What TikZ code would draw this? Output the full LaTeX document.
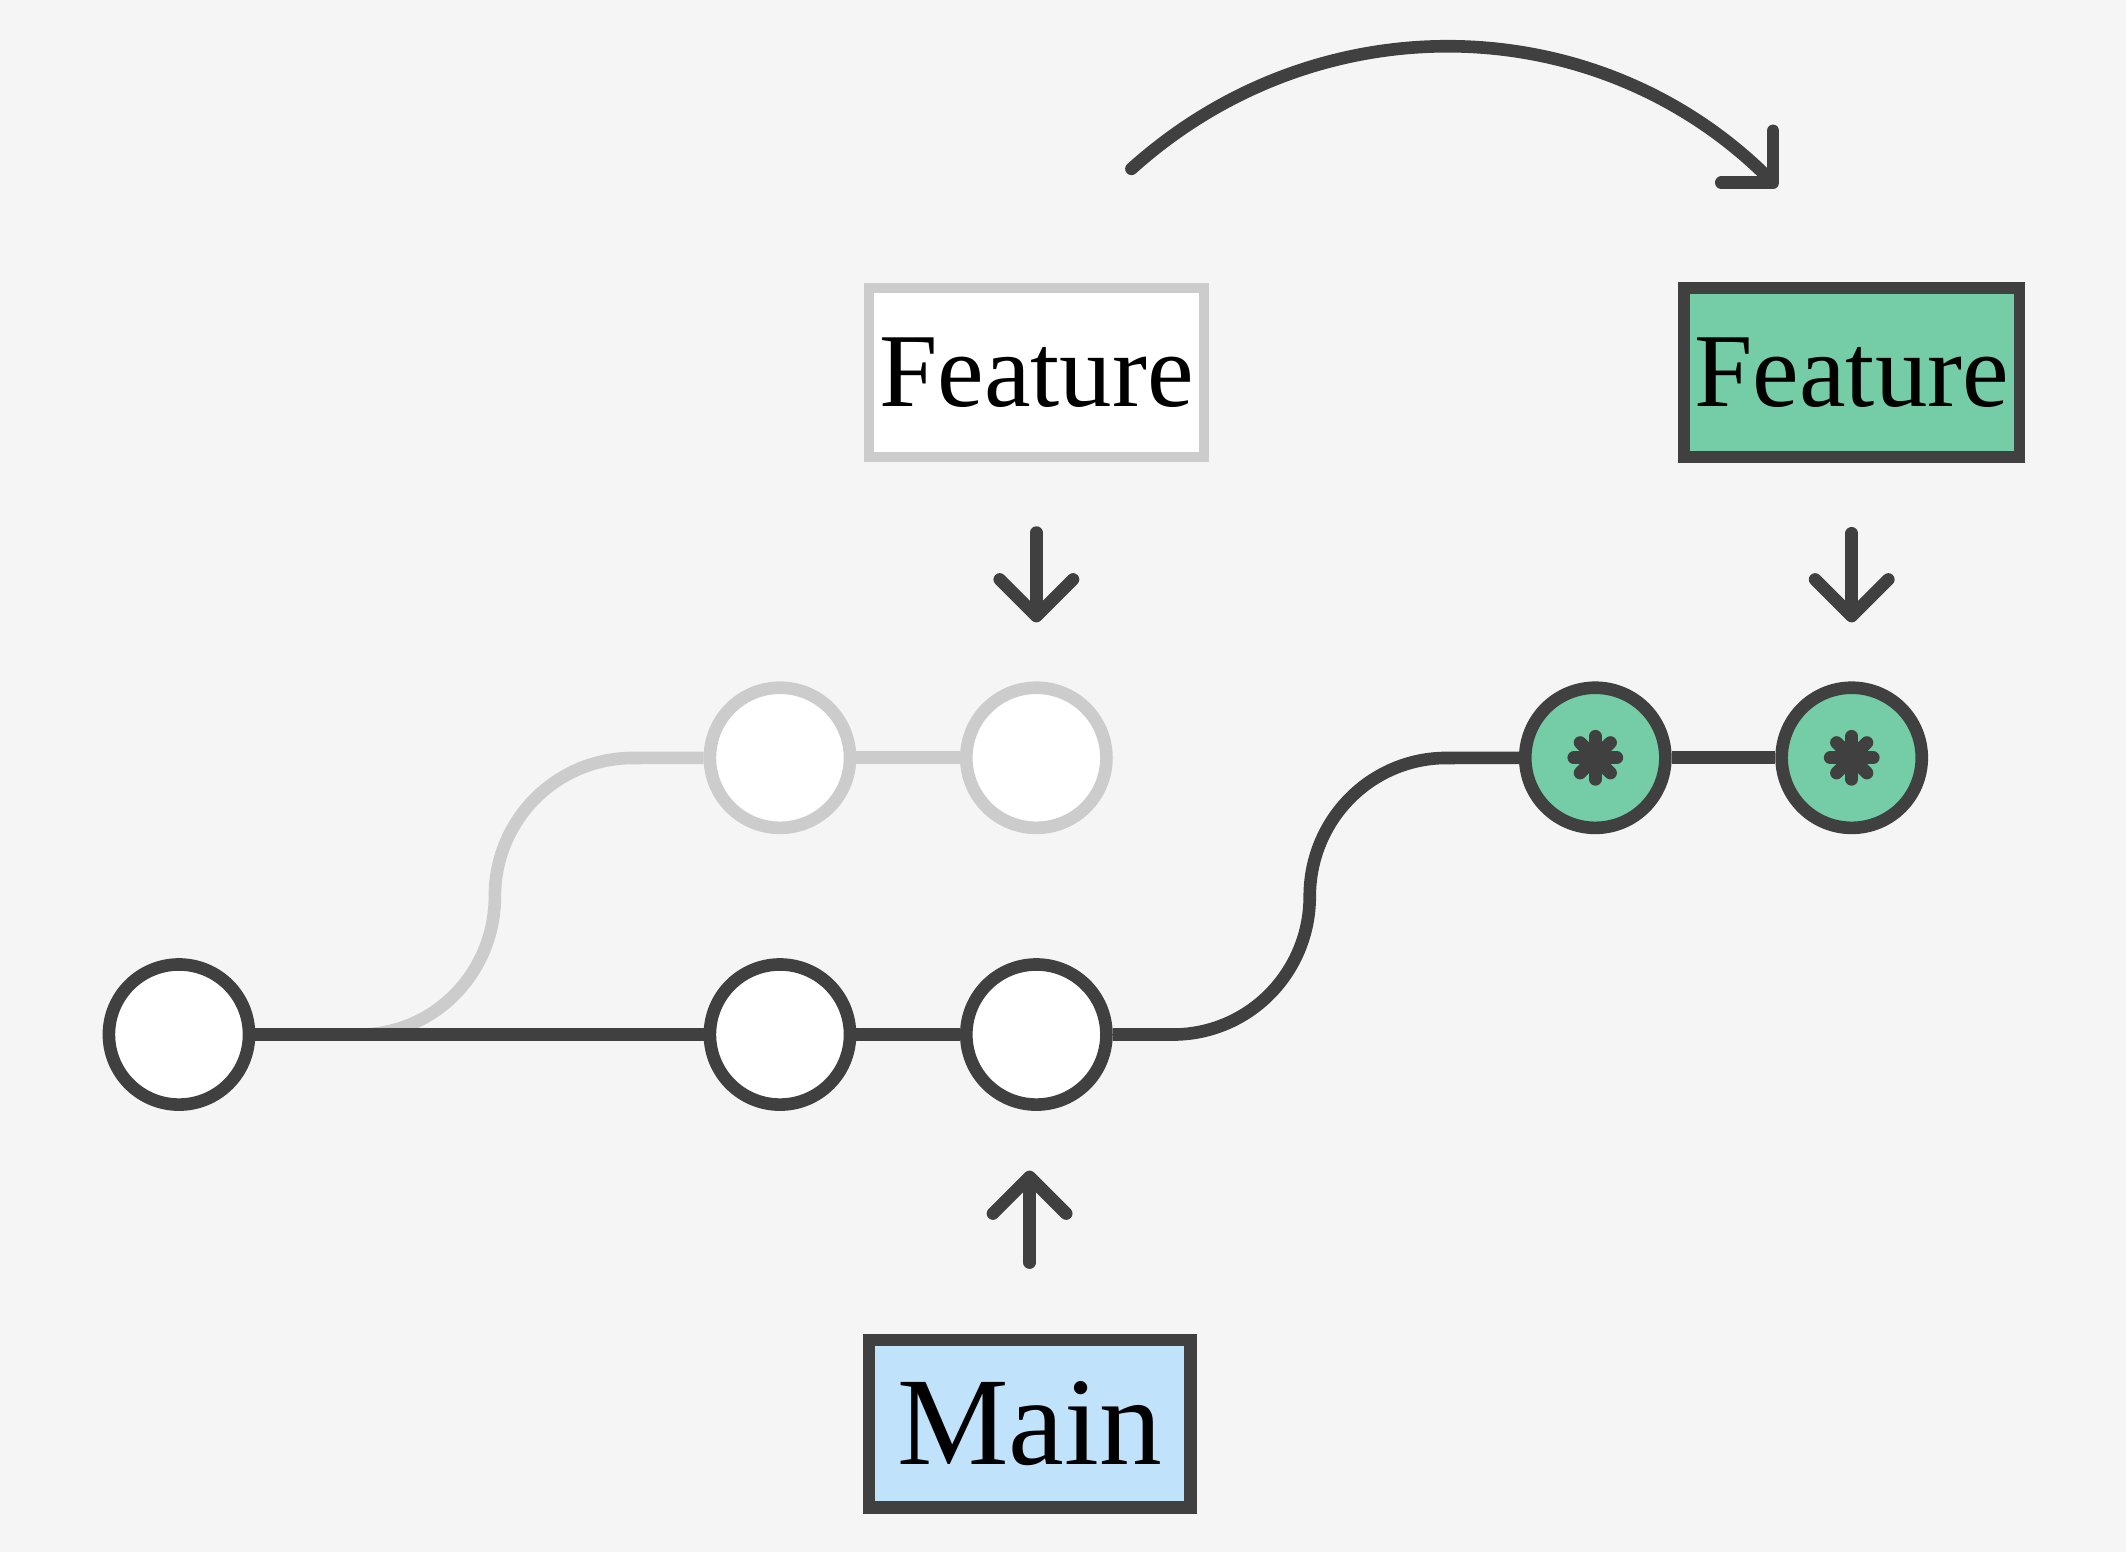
\documentclass[tikz,border=0pt]{standalone}
\usepackage{fontspec}
\setmainfont{Liberation Serif}
\usetikzlibrary{arrows.meta,positioning}
\definecolor{bgcol}{HTML}{F5F5F5}
\definecolor{ink}{HTML}{404040}
\definecolor{faded}{HTML}{CCCCCC}
\definecolor{featgreen}{HTML}{74CDA6}
\definecolor{mainblue}{HTML}{C0E2FA}

\begin{document}
\begin{tikzpicture}[x=0.01cm,y=0.01cm,on grid,
    commit/.style={circle,draw=ink,fill=white,line width=0.93mm,minimum size=1.033cm,inner sep=0pt},
    ghost/.style={commit,draw=faded},
    moved/.style={commit,fill=featgreen},
    branch/.style={draw=ink,line width=0.85mm,minimum width=2.47cm,minimum height=1.245cm,inner sep=0pt,font=\fontsize{22}{26}\selectfont},
    link/.style={ink,line width=0.93mm},
    ptr/.style={ink,line width=0.93mm,line cap=round,-{Straight Barb[length=2.7mm,width=5.4mm,round]}}]
    \useasboundingbox (0,0) rectangle (1568,-1144.6);
    \fill[bgcol] (0,0) rectangle (1568,-1144.6);

    % commits
    \node (c1) [commit] at (132,-763) {};
    \node (m2) [commit,right=4.43cm of c1] {};
    \node (m3) [commit,right=1.89cm of m2] {};
    \node (g1) [ghost,above=2.04cm of m2] {};
    \node (g2) [ghost,right=1.89cm of g1] {};
    \node (f1) [moved,right=4.12cm of g2] {};
    \node (f2) [moved,right=1.89cm of f1] {};

    % branch labels
    \node (fg) [branch,draw=faded,fill=white,line width=0.75mm,above=2.84cm of g2] {Feature};
    \node (ff) [branch,fill=featgreen,above=2.84cm of f2] {Feature};
    \node (mn) [branch,fill=mainblue,line width=0.93mm,minimum width=2.37cm,minimum height=1.235cm,
                font=\fontsize{26.3}{30}\selectfont,below=2.87cm of m3,xshift=-0.5mm] {Main};

    % bends
    \coordinate (gs) at (265,-763);
    \coordinate (gm) at (365,-661);
    \coordinate (gt) at (467,-559);
    \coordinate (ms) at (865,-763);
    \coordinate (fm) at (966,-661);
    \coordinate (ft) at (1067,-559);
    \coordinate (js) at (834.5,-124.5);
    \coordinate (je) at (1311,-138);

    \draw[link,faded] (gs) to[out=0,in=-90] (gm) to[out=90,in=180] (gt) -- (g1);
    \draw[link,faded] (g1) -- (g2);
    \draw[link] (c1) -- (m2);
    \draw[link] (m2) -- (m3);
    \draw[link] (m3) -- (ms) to[out=0,in=-90] (fm) to[out=90,in=180] (ft) -- (f1);
    \draw[link] (f1) -- (f2);

    \foreach \c in {f1,f2} {
        \fill[ink] (\c) circle (1mm);
        \foreach \a in {0,45,90,135}
            \draw[ink,line width=0.95mm,line cap=round] ([shift={(\a:1.58mm)}]\c.center) -- ([shift={(\a+180:1.58mm)}]\c.center);
    }

    \draw[ptr,shorten <=0.52cm,shorten >=0.435cm] (fg) -- (g2);
    \draw[ptr,shorten <=0.52cm,shorten >=0.435cm] (ff) -- (f2);
    \draw[ptr,shorten <=0.525cm,shorten >=0.44cm] (mn.north) -- (mn.north |- m3.south);
    \draw[ptr] (js) to[out=42,in=135] (je);
\end{tikzpicture}
\end{document}
